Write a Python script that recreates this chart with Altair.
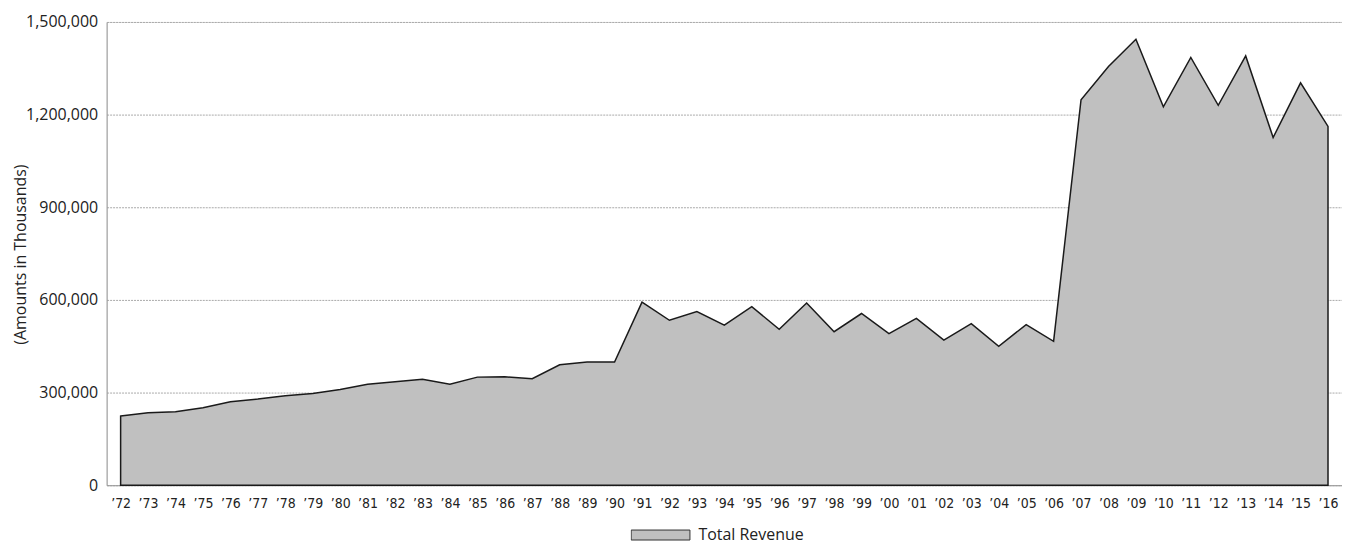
import altair as alt
import pandas as pd

years = list(range(1972, 2017))
revenue = [224000, 235000, 238000, 251000, 270000, 279000, 290000, 297000, 310000, 327000,
           335000, 343000, 327000, 350000, 351000, 345000, 390000, 399000, 399000, 593000,
           534000, 562000, 518000, 578000, 505000, 590000, 497000, 556000, 491000, 540000,
           470000, 523000, 450000, 520000, 466000, 1248000, 1356000, 1444000, 1225000, 1385000,
           1230000, 1390000, 1126000, 1303000, 1162000]
series = ["Total Revenue"] * len(years)
y_ticks = [0, 300000, 600000, 900000, 1200000, 1500000]

df = pd.DataFrame({"year": years, "revenue": revenue, "series": series})

FONT = "Open Sans"

chart = alt.Chart(df).mark_area(
    stroke="#1a1a1a", strokeWidth=1.5, strokeJoin="miter", fillOpacity=1
).encode(
    x=alt.X("year:Q",
            scale=alt.Scale(domain=[1971.49, 2016.51], nice=False, zero=False),
            axis=alt.Axis(values=years, title=None, grid=False,
                          labelExpr="'’' + substring(toString(datum.value), 2)",
                          labelFont="DejaVu Sans Condensed, Open Sans", labelFontSize=14,
                          labelColor="#222", labelPadding=11, ticks=False,
                          domainColor="#999", domainWidth=1, labelFlush=False)),
    y=alt.Y("revenue:Q",
            scale=alt.Scale(domain=[0, 1500000], nice=False),
            axis=alt.Axis(values=y_ticks, format=",d", title="(Amounts in Thousands)",
                          titleFont=FONT, titleFontSize=16, titleFontWeight="normal",
                          titleColor="#222", titleX=-86, titleY=233, titleAngle=270,
                          titleAlign="center", titleBaseline="middle",
                          labelFont=FONT, labelFontSize=16, labelColor="#222",
                          labelPadding=9, ticks=False,
                          gridColor="#aaa", gridDash=[2, 1], gridWidth=1,
                          domainColor="#999")),
    color=alt.Color("series:N",
                    scale=alt.Scale(domain=["Total Revenue"], range=["#c0c0c0"]),
                    legend=alt.Legend(title=None, orient="none", legendX=526, legendY=507,
                                      symbolType="M-1,-0.17L1,-0.17L1,0.17L-1,0.17Z",
                                      symbolSize=3481, symbolStrokeColor="#333",
                                      symbolStrokeWidth=1, symbolFillColor="#c0c0c0",
                                      clipHeight=16,
                                      labelFont=FONT, labelFontSize=16,
                                      labelColor="#222", labelOffset=8)),
).properties(
    width=1240, height=465,
    autosize=alt.AutoSizeParams(type="none"),
    padding={"left": 99, "right": 0, "top": 13, "bottom": 60},
).configure_view(stroke=None).configure(background="white")

chart.save("out.html", embed_options={"renderer": "svg", "actions": False})
